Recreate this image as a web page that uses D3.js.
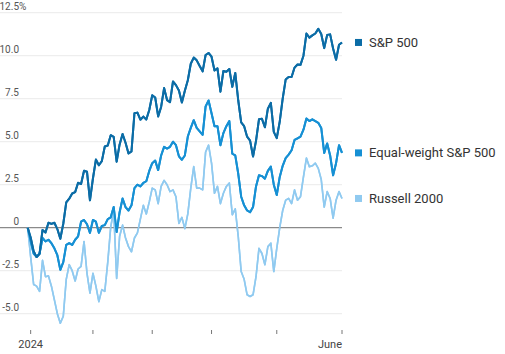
<!DOCTYPE html>
<html>
<head>
<meta charset="utf-8">
<script src="https://cdn.jsdelivr.net/npm/d3@7"></script>
<style>
  body { margin: 0; background: #fff; }
  text { font-family: Roboto, "Noto Sans", sans-serif; }
</style>
</head>
<body>
<svg id="chart" width="505" height="354"></svg>
<script>
// Trading days, Dec 29 2023 to Jun 3 2024
const dates = [
  "2023-12-29",
  "2024-01-02","2024-01-03","2024-01-04","2024-01-05","2024-01-08","2024-01-09","2024-01-10","2024-01-11","2024-01-12",
  "2024-01-16","2024-01-17","2024-01-18","2024-01-19","2024-01-22","2024-01-23","2024-01-24","2024-01-25","2024-01-26",
  "2024-01-29","2024-01-30","2024-01-31",
  "2024-02-01","2024-02-02","2024-02-05","2024-02-06","2024-02-07","2024-02-08","2024-02-09","2024-02-12","2024-02-13",
  "2024-02-14","2024-02-15","2024-02-16","2024-02-20","2024-02-21","2024-02-22","2024-02-23","2024-02-26","2024-02-27",
  "2024-02-28","2024-02-29",
  "2024-03-01","2024-03-04","2024-03-05","2024-03-06","2024-03-07","2024-03-08","2024-03-11","2024-03-12","2024-03-13",
  "2024-03-14","2024-03-15","2024-03-18","2024-03-19","2024-03-20","2024-03-21","2024-03-22","2024-03-25","2024-03-26",
  "2024-03-27","2024-03-28",
  "2024-04-01","2024-04-02","2024-04-03","2024-04-04","2024-04-05","2024-04-08","2024-04-09","2024-04-10","2024-04-11",
  "2024-04-12","2024-04-15","2024-04-16","2024-04-17","2024-04-18","2024-04-19","2024-04-22","2024-04-23","2024-04-24",
  "2024-04-25","2024-04-26","2024-04-29","2024-04-30",
  "2024-05-01","2024-05-02","2024-05-03","2024-05-06","2024-05-07","2024-05-08","2024-05-09","2024-05-10","2024-05-13",
  "2024-05-14","2024-05-15","2024-05-16","2024-05-17","2024-05-20","2024-05-21","2024-05-22","2024-05-23","2024-05-24",
  "2024-05-28","2024-05-29","2024-05-30","2024-05-31",
  "2024-06-03"
];

// Cumulative change since end of 2023, %
const sp500 = [
  0,
  -0.57,-1.36,-1.70,-1.52,-0.13,-0.28,0.29,0.22,0.29,
  -0.08,-0.64,0.23,1.47,1.69,1.99,2.07,2.61,2.54,
  3.31,3.25,1.59,
  2.86,3.96,3.63,3.87,4.72,4.78,5.38,5.28,3.84,
  4.84,5.45,4.94,4.31,4.44,6.65,6.69,6.28,6.46,
  6.29,6.84,
  7.70,7.57,6.47,7.02,8.12,7.42,7.30,8.50,8.29,
  7.98,7.28,7.96,8.57,9.53,9.89,9.73,9.40,9.09,
  10.04,10.16,
  9.94,9.14,9.26,7.91,9.11,9.07,9.23,8.19,9.00,
  7.41,6.12,5.90,5.29,5.06,4.14,5.05,6.30,6.33,
  5.84,6.92,7.26,5.57,
  5.21,6.17,7.50,8.61,8.76,8.76,9.31,9.49,9.47,
  10.00,11.29,11.05,11.18,11.29,11.56,11.26,10.44,11.21,
  11.24,10.42,9.76,10.64,
  10.77
];

const equalWeight = [
  0,
  -0.8,-1.5,-1.7,-1.5,-0.6,-0.8,-0.7,-0.9,-1.2,
  -1.6,-2.45,-2.0,-1.0,-0.9,-1.0,-0.7,-0.5,0.35,
  0.45,0.2,-0.3,
  0.45,0.35,-0.3,0.1,0.15,0.5,0.6,1.2,-0.25,
  0.9,1.7,1.2,1.0,1.3,2.3,2.5,2.4,2.6,
  2.7,3.3,
  3.75,3.9,3.35,4.2,4.7,4.6,4.7,5.0,4.8,
  4.15,3.95,4.2,5.3,5.8,6.25,5.8,5.6,5.4,
  7.05,7.4,
  6.65,5.9,5.9,4.8,5.5,5.9,6.2,4.3,4.2,
  3.15,1.8,1.3,1.0,0.9,1.2,2.4,3.05,3.0,
  2.85,3.3,3.55,2.5,
  1.9,2.95,3.6,4.05,4.25,4.5,5.1,5.2,5.3,
  5.7,6.35,6.2,6.3,6.2,6.1,5.8,4.35,4.9,
  4.2,3.05,3.75,4.8,
  4.35
];

const russell = [
  0,
  -1.7,-3.3,-3.4,-3.7,-1.9,-2.85,-2.8,-3.4,-4.2,
  -5.0,-5.55,-5.15,-3.0,-2.15,-2.5,-3.1,-2.4,-2.25,
  -0.8,-2.65,-3.8,
  -2.65,-3.4,-4.3,-3.6,-3.7,-2.0,0.05,1.0,-2.95,
  -0.5,0.15,-0.6,-1.1,-1.4,-0.6,-0.3,0.5,1.3,
  0.8,1.5,
  2.3,2.2,1.4,2.4,2.75,2.5,2.1,2.2,1.8,
  0.25,0.6,-0.05,0.8,2.3,3.55,2.3,2.3,2.2,
  4.4,4.8,
  3.75,2.0,2.4,1.4,2.0,2.4,2.6,0.75,1.1,
  -0.5,-2.55,-3.0,-3.9,-4.0,-3.9,-2.85,-1.2,-1.5,
  -2.15,-1.1,-0.9,-2.55,
  -1.2,0.0,1.0,1.6,1.7,1.4,2.2,1.6,1.8,
  2.95,4.05,3.55,3.6,3.75,3.45,2.8,1.2,2.1,
  1.7,0.55,1.6,2.1,
  1.7
];

const seriesNames = ["Russell 2000", "Equal-weight S&P 500", "S&P 500"];
const seriesColors = ["#90caf0", "#1690d4", "#0b6ca6"];
const yTicks = [-5, -2.5, 0, 2.5, 5, 7.5, 10, 12.5];
const xTickDates = ["2024-01-02", "2024-02-01", "2024-03-01", "2024-04-01", "2024-05-01", "2024-06-03"];
const xTickLabels = ["2024", "", "", "", "", "June"];

const svg = d3.select("#chart");
const plotLeft = 0, plotRight = 342;

const x = d3.scalePoint().domain(dates).range([27.7, 342]);
const y = d3.scaleLinear().domain([-5, 12.5]).range([313.7, 12.7]);

// Gridlines
svg.append("g").selectAll("line")
  .data(yTicks.filter(d => d !== 0))
  .join("line")
  .attr("x1", plotLeft).attr("x2", plotRight)
  .attr("y1", d => y(d)).attr("y2", d => y(d))
  .attr("stroke", "#ebebeb").attr("stroke-width", 1);

// Y labels (right aligned, % hangs for top)
const yLab = svg.append("g").selectAll("text")
  .data(yTicks)
  .join("text")
  .attr("x", 19).attr("y", d => y(d) - 3)
  .attr("text-anchor", "end")
  .attr("font-size", 10)
  .attr("fill", "#555")
  .text(d => d === 0 ? "0" : d.toFixed(1));
svg.append("text")
  .attr("x", 19).attr("y", y(12.5) - 3)
  .attr("font-size", 10).attr("fill", "#555")
  .text("%");

// Lines
const line = d3.line()
  .x((d, i) => x(dates[i]))
  .y(d => y(d));

const seriesData = [russell, equalWeight, sp500];
const widths = [1.6, 2, 2];

svg.append("g").selectAll("path")
  .data(seriesData)
  .join("path")
  .attr("d", d => line(d))
  .attr("fill", "none")
  .attr("stroke", (d, i) => seriesColors[i])
  .attr("stroke-width", (d, i) => widths[i])
  .attr("stroke-linejoin", "round");

// Zero line
svg.append("line")
  .attr("x1", plotLeft).attr("x2", plotRight)
  .attr("y1", y(0)).attr("y2", y(0))
  .attr("stroke", "#8a8a8a").attr("stroke-width", 1.3);

// Redraw lines above zero line
svg.append("g").selectAll("path")
  .data(seriesData)
  .join("path")
  .attr("d", d => line(d))
  .attr("fill", "none")
  .attr("stroke", (d, i) => seriesColors[i])
  .attr("stroke-width", (d, i) => widths[i])
  .attr("stroke-linejoin", "round");

// X axis ticks and labels
const xt = svg.append("g");
xt.selectAll("line")
  .data(xTickDates)
  .join("line")
  .attr("x1", d => x(d)).attr("x2", d => x(d))
  .attr("y1", 330).attr("y2", 334)
  .attr("stroke", "#777").attr("stroke-width", 1);
xt.selectAll("text")
  .data(xTickDates)
  .join("text")
  .attr("x", d => x(d))
  .attr("y", 348)
  .attr("text-anchor", (d, i) => i === xTickDates.length - 1 ? "end" : "middle")
  .attr("font-size", 11)
  .attr("fill", "#444")
  .text((d, i) => xTickLabels[i]);

// Legend at last values
const legend = svg.append("g").selectAll("g")
  .data(seriesData)
  .join("g")
  .attr("transform", d => `translate(355, ${y(d[d.length - 1])})`);
legend.append("rect")
  .attr("x", 0).attr("y", -3.5)
  .attr("width", 7).attr("height", 7)
  .attr("fill", (d, i) => seriesColors[i]);
legend.append("text")
  .attr("x", 14).attr("y", 4.5)
  .attr("font-size", 13)
  .attr("fill", "#333")
  .text((d, i) => seriesNames[i]);
</script>
</body>
</html>
